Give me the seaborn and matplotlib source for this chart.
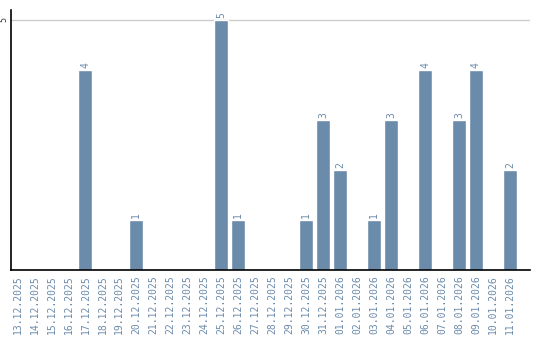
import matplotlib
matplotlib.use("Agg")
import matplotlib.pyplot as plt
import seaborn as sns
import pandas as pd

dates = ["13.12.2025", "14.12.2025", "15.12.2025", "16.12.2025", "17.12.2025",
         "18.12.2025", "19.12.2025", "20.12.2025", "21.12.2025", "22.12.2025",
         "23.12.2025", "24.12.2025", "25.12.2025", "26.12.2025", "27.12.2025",
         "28.12.2025", "29.12.2025", "30.12.2025", "31.12.2025", "01.01.2026",
         "02.01.2026", "03.01.2026", "04.01.2026", "05.01.2026", "06.01.2026",
         "07.01.2026", "08.01.2026", "09.01.2026", "10.01.2026", "11.01.2026"]
values = [0, 0, 0, 0, 4, 0, 0, 1, 0, 0, 0, 0, 5, 1, 0, 0, 0, 1, 3, 2,
          0, 1, 3, 0, 4, 0, 3, 4, 0, 2]

df = pd.DataFrame({"date": dates, "value": values})
color = "#6B8BAB"

sns.set_theme(style="white")
plt.rcParams['font.family'] = ['DejaVu Sans Mono', 'DejaVu Sans']

fig = plt.figure(figsize=(5.4, 3.4), dpi=100)
ax = fig.add_axes([0.0204, 0.206, 0.961, 0.765])
sns.barplot(data=df, x="date", y="value", color=color, saturation=1, width=0.82, ax=ax)

ax.set_ylim(0, 5.2)
ax.set_xlim(-0.38, len(dates) + 0.18)
ax.set_yticks([5])
ax.set_yticklabels(["5"], rotation=90, fontsize=6, color="#333333", va="center")
ax.tick_params(axis="y", length=0, pad=2)
ax.tick_params(axis="x", length=0, pad=4)
ax.set_xticks(range(len(dates)))
ax.set_xticklabels(dates, rotation=90, fontsize=7, color=color)
ax.axhline(5, color="#cccccc", lw=1, zorder=0)
ax.set_xlabel("")
ax.set_ylabel("")
for s in ["top", "right"]:
    ax.spines[s].set_visible(False)
for s in ["left", "bottom"]:
    ax.spines[s].set_color("black")
    ax.spines[s].set_linewidth(1.2)

for i, v in enumerate(values):
    if v > 0:
        ax.text(i, v + 0.04, str(v), rotation=90, ha="center", va="bottom",
                fontsize=7, color=color)

fig.savefig("out.png", dpi=100)
